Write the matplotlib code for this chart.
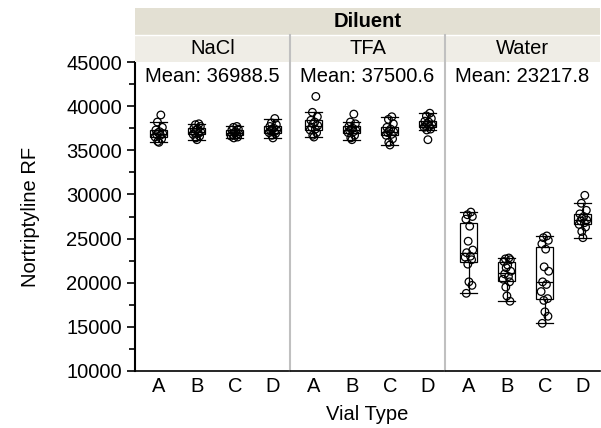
import matplotlib
matplotlib.use("Agg")
import matplotlib.pyplot as plt
from matplotlib.patches import Rectangle

plt.rcParams["font.family"] = ["Liberation Sans", "DejaVu Sans"]
FS = 14.5

diluents = ["NaCl", "TFA", "Water"]
vial_types = ["A", "B", "C", "D"]
mean_labels = ["Mean: 36988.5", "Mean: 37500.6", "Mean: 23217.8"]

nacl_a = [39000, 38200, 37600, 37300, 37100, 37000, 36900, 36800, 36700, 36500, 36300, 36000, 35900]
nacl_b = [38000, 37900, 37700, 37500, 37400, 37300, 37100, 37000, 36900, 36800, 36600, 36400, 36200]
nacl_c = [37700, 37600, 37400, 37300, 37100, 37000, 36900, 36800, 36700, 36600, 36500, 36400]
nacl_d = [38600, 38100, 37900, 37700, 37500, 37400, 37300, 37200, 37100, 37000, 36900, 36700, 36400]

tfa_a = [41100, 39300, 38800, 38400, 38200, 38000, 37800, 37600, 37400, 37300, 37000, 36700, 36500]
tfa_b = [39100, 38200, 38000, 37700, 37500, 37400, 37300, 37200, 37100, 37000, 36700, 36400, 36200]
tfa_c = [38800, 38500, 38000, 37600, 37400, 37200, 37100, 37000, 36800, 36700, 36300, 35900, 35600]
tfa_d = [39200, 38900, 38600, 38300, 38200, 38000, 37900, 37800, 37700, 37600, 37400, 37300, 36200]

water_a = [28000, 27700, 27500, 27200, 26400, 24700, 23700, 23400, 23000, 22900, 22600, 22100, 20100, 19700, 18800]
water_b = [22800, 22700, 22600, 22400, 22000, 21700, 21300, 21000, 20700, 20400, 20100, 19500, 18500, 17900]
water_c = [25300, 25100, 24800, 24400, 23800, 21800, 21300, 20100, 19800, 19000, 18200, 18000, 16700, 16200, 15400]
water_d = [29900, 29000, 28200, 27800, 27500, 27300, 27100, 27000, 26800, 26600, 26300, 25800, 25100]

groups = [
    [nacl_a, nacl_b, nacl_c, nacl_d],
    [tfa_a, tfa_b, tfa_c, tfa_d],
    [water_a, water_b, water_c, water_d],
]

# fixed horizontal spread for the points (display only)
spread = [0.05, -0.04, 0.09, -0.08, 0.02, -0.02, 0.1, -0.06, 0.04, -0.1, 0.07, -0.03, 0.0, 0.08, -0.07]

W, H = 601, 428
fig = plt.figure(figsize=(W / 100, H / 100), dpi=100)

left, right = 135, 600
bottom, top = 371, 62
panel_w = (right - left) / 3

axes = []
for i, name in enumerate(diluents):
    x0 = left + i * panel_w
    ax = fig.add_axes([x0 / W, 1 - bottom / H, panel_w / W, (bottom - top) / H])
    axes.append(ax)
    pos = list(range(len(vial_types)))
    ax.boxplot(groups[i], positions=pos, widths=0.45, whis=1.5, showfliers=False,
               patch_artist=True, capwidths=0.45,
               boxprops=dict(facecolor="white", edgecolor="black", linewidth=0.9),
               medianprops=dict(color="black", linewidth=0.9),
               whiskerprops=dict(color="black", linewidth=0.9),
               capprops=dict(color="black", linewidth=0.9),
               zorder=2)
    for j, vals in enumerate(groups[i]):
        xs = [j + spread[k % len(spread)] for k in range(len(vals))]
        ax.scatter(xs, vals, s=30, facecolors="none", edgecolors="black",
                   linewidths=0.9, zorder=3)
    ax.set_xlim(-0.63, 3.45)
    ax.set_ylim(10000, 45000)
    ax.set_xticks(pos)
    ax.set_xticklabels(vial_types, fontsize=FS)
    ax.tick_params(axis="x", length=0, pad=4)
    ax.text(0.5, 0.985, mean_labels[i], transform=ax.transAxes, ha="center",
            va="top", fontsize=FS)
    for side in ["top", "right"]:
        ax.spines[side].set_visible(False)
    if i == 0:
        ax.set_yticks(range(10000, 45001, 5000))
        ax.set_yticks(range(12500, 45000, 5000), minor=True)
        ax.tick_params(axis="y", which="major", length=6, width=1.2, labelsize=FS)
        ax.tick_params(axis="y", which="minor", length=4, width=1.2)
        ax.spines["left"].set_linewidth(1.5)
    else:
        ax.set_yticks([])
        ax.spines["left"].set_color("#c0c0c0")
        ax.spines["left"].set_linewidth(1.5)
    ax.spines["bottom"].set_linewidth(1.2)

fig.text(30 / W, 1 - (bottom + top) / 2 / H, "Nortriptyline RF", rotation=90,
         ha="center", va="center", fontsize=FS)
fig.text((left + right) / 2 / W, 1 - 415 / H, "Vial Type", ha="center",
         va="center", fontsize=FS)

# header bands
hdr = fig.add_axes([left / W, 1 - top / H, (right - left) / W, 54 / H])
hdr.set_xlim(0, 3)
hdr.set_ylim(0, 2)
hdr.axis("off")
hdr.add_patch(Rectangle((0, 1), 3, 1, facecolor="#e3e0d3", edgecolor="none"))
hdr.add_patch(Rectangle((0, 0), 3, 1, facecolor="#efede6", edgecolor="none"))
hdr.plot([0, 3], [1, 1], color="white", linewidth=1)
hdr.text(1.5, 1.5, "Diluent", ha="center", va="center", fontsize=FS, fontweight="bold")
for i, name in enumerate(diluents):
    hdr.text(i + 0.5, 0.5, name, ha="center", va="center", fontsize=FS)
    if i > 0:
        hdr.plot([i, i], [0, 1], color="#c0c0c0", linewidth=1.5)

fig.savefig("out.png", dpi=100)
